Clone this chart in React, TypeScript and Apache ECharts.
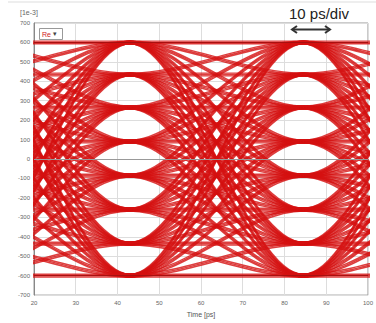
import { useEffect, useRef } from "react";
import * as echarts from "echarts";

// PAM-8 signal levels [1e-3]
const levels = [600, 435, 265, 90, -85, -260, -435, -600];
// Symbol sequence (indices into levels) – covers every level-to-level transition
const symbols = [
  0, 0, 1, 0, 2, 0, 3, 0, 4, 0, 5, 0, 6, 0, 7, 1, 1, 2, 1, 3, 1, 4, 1, 5, 1, 6, 1, 7,
  2, 2, 3, 2, 4, 2, 5, 2, 6, 2, 7, 3, 3, 4, 3, 5, 3, 6, 3, 7, 4, 4, 5, 4, 6, 4, 7,
  5, 5, 6, 5, 7, 6, 6, 7, 7,
];
// Sampling instants (symbol centres) in ps
const symbolTimes = [-40, 1.5, 43, 84.5, 126, 167.5];
// Amplitude noise offsets of the captured waveforms [1e-3]
const noiseOffsets = [-7, 0, 7];
// Reference rails
const railLevels = [600, -600];

export default function App() {
  const ref = useRef<HTMLDivElement>(null);
  useEffect(() => {
    if (!ref.current) return;
    const chart = echarts.init(ref.current, undefined, { renderer: "svg" });
    const red = "#d41010";
    const series: any[] = [];
    series.push({
      type: "line",
      data: [],
      silent: true,
      z: 2,
      markLine: {
        silent: true,
        symbol: "none",
        label: { show: false },
        data: [{ yAxis: 0, lineStyle: { color: "#999", width: 1, type: "solid" } }],
      },
    });
    noiseOffsets.forEach((off) => {
      symbols.forEach((_, k) => {
        series.push({
          type: "line",
          data: symbolTimes.map((t, j) => [t, levels[symbols[(k + j) % symbols.length]] + off]),
          showSymbol: false,
          smooth: 0.32,
          smoothMonotone: "x",
          silent: true,
          clip: true,
          lineStyle: { color: red, width: 1.4, opacity: 0.8 },
          z: 3,
        });
      });
    });
    series.push({
      type: "line",
      data: [],
      silent: true,
      z: 4,
      markLine: {
        silent: true,
        symbol: "none",
        label: { show: false },
        data: railLevels.map((v) => ({
          yAxis: v,
          lineStyle: { color: "#a81010", width: 1.2, type: "solid" },
        })),
      },
    });
    chart.setOption({
      animation: false,
      grid: {
        left: 34,
        right: 4,
        top: 23,
        bottom: 24,
        show: true,
        borderColor: "#999",
        borderWidth: 1,
      },
      xAxis: {
        type: "value",
        min: 20,
        max: 100,
        interval: 10,
        name: "Time [ps]",
        nameLocation: "middle",
        nameGap: 14,
        nameTextStyle: { fontSize: 7, color: "#555", fontFamily: "Liberation Sans" },
        axisLine: { show: true, lineStyle: { color: "#888" } },
        axisTick: { show: false },
        axisLabel: { fontSize: 6, color: "#666", margin: 5, fontFamily: "Liberation Sans" },
        splitLine: { show: true, lineStyle: { color: "#ddd", width: 1 } },
      },
      yAxis: {
        type: "value",
        min: -700,
        max: 700,
        interval: 100,
        axisLine: { show: true, lineStyle: { color: "#888" } },
        axisTick: { show: false },
        axisLabel: { fontSize: 6, color: "#666", margin: 4, fontFamily: "Liberation Sans" },
        splitLine: { show: true, lineStyle: { color: "#ddd", width: 1 } },
      },
      series,
      graphic: [
        { type: "line", shape: { x1: 8, y1: 2, x2: 376, y2: 2 }, style: { stroke: "#ddd", lineWidth: 1 } },
        { type: "text", x: 20, y: 9, style: { text: "[1e-3]", fontSize: 7, fill: "#666", fontFamily: "Liberation Sans" } },
        { type: "rect", z: 10, shape: { x: 39.5, y: 28.5, width: 23, height: 11 }, style: { fill: "#fff", stroke: "#999", lineWidth: 1 } },
        { type: "text", z: 11, x: 42, y: 30.5, style: { text: "Re", fontSize: 7, fill: "#d02020", fontFamily: "Liberation Sans" } },
        { type: "text", z: 11, x: 53, y: 30.5, style: { text: "▾", fontSize: 7, fill: "#444", fontFamily: "DejaVu Sans" } },
        { type: "text", z: 11, x: 289, y: 6, style: { text: "10 ps/div", fontSize: 15, fill: "#222", fontFamily: "Liberation Sans" } },
        { type: "line", z: 11, shape: { x1: 292, y1: 29.5, x2: 330, y2: 29.5 }, style: { stroke: "#333", lineWidth: 2 } },
        { type: "polyline", z: 11, shape: { points: [[297, 26], [292, 29.5], [297, 33]] }, style: { stroke: "#333", lineWidth: 2, fill: "none" } },
        { type: "polyline", z: 11, shape: { points: [[325, 26], [330, 29.5], [325, 33]] }, style: { stroke: "#333", lineWidth: 2, fill: "none" } },
      ],
    });
    return () => chart.dispose();
  }, []);
  return <div ref={ref} style={{ width: 376, height: 323, position: "absolute", left: 0, top: 0 }} />;
}
